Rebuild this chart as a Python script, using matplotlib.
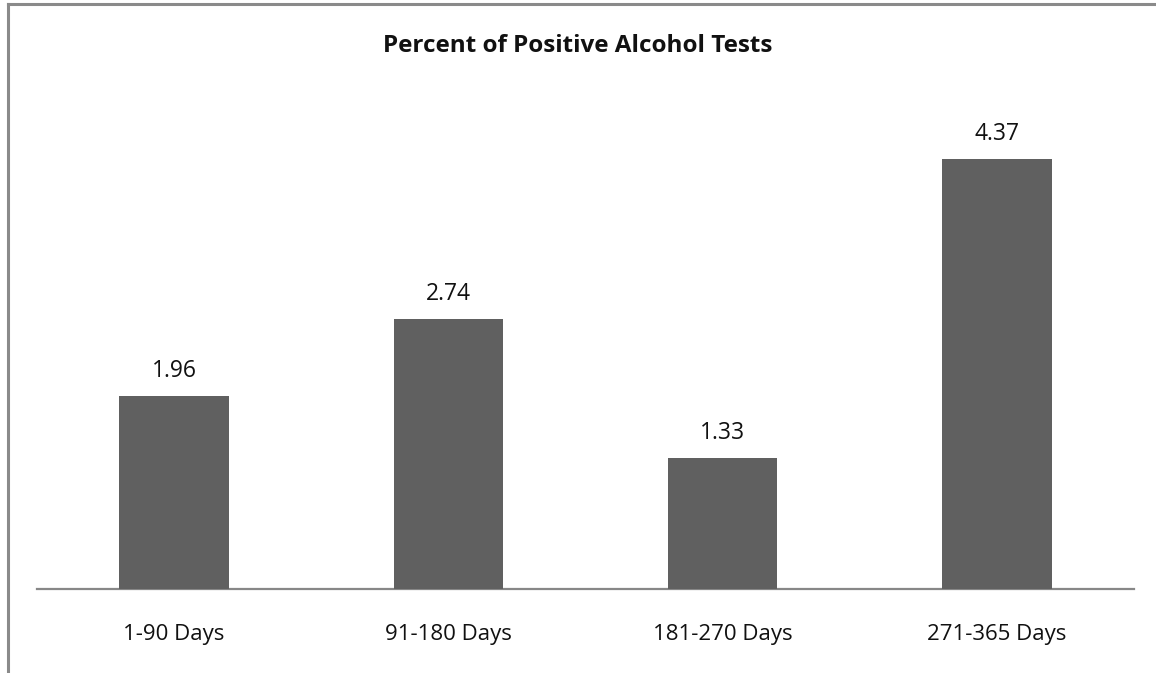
import matplotlib; matplotlib.use('Agg')
import matplotlib.pyplot as plt
from matplotlib.lines import Line2D

plt.rcParams['font.family'] = ['Open Sans', 'DejaVu Sans']

# data
categories = ['1-90 Days', '91-180 Days', '181-270 Days', '271-365 Days']
values = [1.96, 2.74, 1.33, 4.37]
title = 'Percent of Positive Alcohol Tests'

W, H = 1156, 673
fig = plt.figure(figsize=(W/100, H/100), dpi=100)
y0, y1 = 589, 96.5
ax = fig.add_axes([37/W, (H-y0)/H, (1134-37)/W, (y0-y1)/H])

x = range(len(categories))
bars = ax.bar(x, values, width=0.4, color='#606060', zorder=3)
ax.set_xlim(-0.5, len(categories)-0.5)
ax.set_ylim(0, 5)
for b, v in zip(bars, values):
    ax.annotate(f'{v:.2f}', (b.get_x()+b.get_width()/2, v), xytext=(0, 13.7),
                textcoords='offset points', ha='center', va='baseline', fontsize=16.5, color='#111111')

ax.set_xticks(list(x))
ax.set_xticklabels(categories, fontsize=16, color='#111111', va='baseline')
ax.tick_params(axis='x', length=0, pad=37)
ax.set_yticks([])
for s in ['top', 'right', 'left']: ax.spines[s].set_visible(False)
ax.spines['bottom'].set_color('#878787'); ax.spines['bottom'].set_linewidth(1.6)

fig.text(578/W, 1-52/H, title, ha='center', va='baseline', fontsize=17.5, fontweight='bold', color='#111111')

# outer border (left and top only)
fig.add_artist(Line2D([7.5/W, 7.5/W], [0, 1-3.5/H], transform=fig.transFigure, color='#8a8a8a', lw=2.2))
fig.add_artist(Line2D([7.5/W, 1], [1-3.5/H, 1-3.5/H], transform=fig.transFigure, color='#8a8a8a', lw=2.2))

fig.savefig('out.png', dpi=100)
